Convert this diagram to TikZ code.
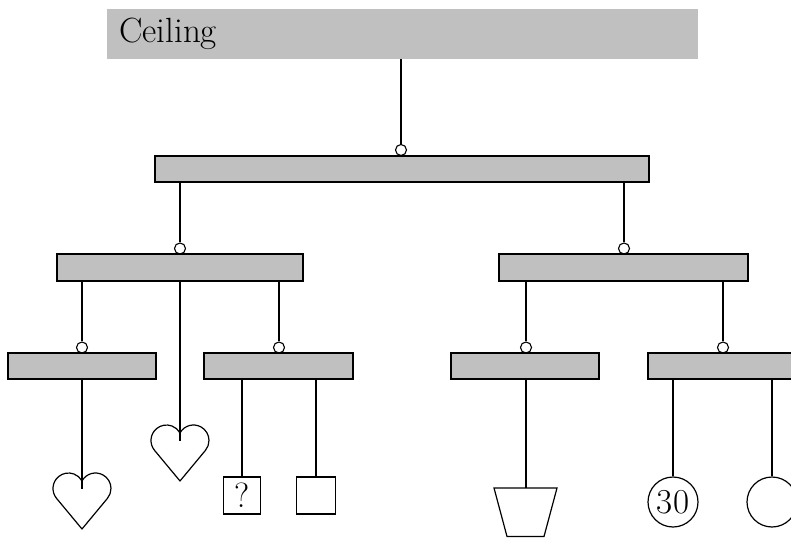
\documentclass[tikz,border=0pt]{standalone}
\definecolor{bargray}{RGB}{192,192,192}
\begin{document}
\begin{tikzpicture}[x=1pt,y=1pt,
  bar/.style={draw,line width=1.2pt,fill=bargray,minimum height=26pt,inner sep=0pt},
  ring/.style={circle,draw,fill=white,line width=1.1pt,minimum size=11pt,inner sep=0pt},
  hang/.style={line width=1.2pt},
  lbl/.style={font=\fontsize{35}{40}\selectfont},
  obj/.style={draw,line width=1.2pt,inner sep=0pt,lbl},
  heart/.pic={
    \draw[hang,line join=round] (0,-56) -- (-25.42,-25.41)
      arc[start angle=219.74,end angle=29.44,radius=15.5]
      arc[start angle=150.56,end angle=-39.74,radius=15.5] -- cycle;
    \coordinate (-top) at (0,-16);
  }]
\clip (0,0) rectangle (791,538);
% ceiling
\node[fill=bargray,minimum width=591pt,minimum height=50pt,inner sep=0pt] (ceil) at (402.5,504) {};
\node[lbl,anchor=base west,inner sep=0pt] (ceiltxt) at (119,495.5) {Ceiling};
% rings
\node[ring] (r0) at (401,388) {};
\node[ring] (r1) at (180,289.5) {};
\node[ring] (r2) at (624,289.5) {};
\node[ring] (r3) at (82,190.5) {};
\node[ring] (r4) at (279,190.5) {};
\node[ring] (r5) at (526,190.5) {};
\node[ring] (r6) at (723,190.5) {};
% bars
\node[bar,minimum width=494pt] (b0) at (402,369) {};
\node[bar,minimum width=246pt,minimum height=27pt] (b1) at (180,270.5) {};
\node[bar,minimum width=249pt,minimum height=27pt] (b2) at (623.5,270.5) {};
\node[bar,minimum width=148pt] (b3) at (82,172) {};
\node[bar,minimum width=149pt] (b4) at (278.5,172) {};
\node[bar,minimum width=148pt] (b5) at (525,172) {};
\node[bar,minimum width=148pt] (b6) at (722,172) {};
% connectors between bars
\draw[hang] (r0.north |- ceil.south) -- (r0.north);
\draw[hang] (r1.north |- b0.south) -- (r1.north);
\draw[hang] (r2.north |- b0.south) -- (r2.north);
\draw[hang] (r3.north |- b1.south) -- (r3.north);
\draw[hang] (r4.north |- b1.south) -- (r4.north);
\draw[hang] (r5.north |- b2.south) -- (r5.north);
\draw[hang] (r6.north |- b2.south) -- (r6.north);
% hanging objects
\pic (hA) at (82,65) {heart};
\pic (hB) at (180,113) {heart};
\node[obj,minimum width=37pt,minimum height=37pt] (qbox) at (242,42.5) {?};
\node[obj,minimum width=39pt,minimum height=37pt] (ebox) at (316,42.5) {};
\draw[hang] (494,50) -- (557,50) -- (544,1.5) -- (507,1.5) -- cycle;
\coordinate (tz) at (526,50);
\node[obj,circle,minimum size=50pt] (c30) at (673,36) {30};
\node[obj,circle,minimum size=50pt] (cE) at (772,36) {};
% object connectors
\draw[hang] (hA-top |- b3.south) -- (hA-top);
\draw[hang] (hB-top |- b1.south) -- (hB-top);
\draw[hang] (qbox.north |- b4.south) -- (qbox.north);
\draw[hang] (ebox.north |- b4.south) -- (ebox.north);
\draw[hang] (tz |- b5.south) -- (tz);
\draw[hang] (c30.north |- b6.south) -- (c30.north);
\draw[hang] (cE.north |- b6.south) -- (cE.north);
\end{tikzpicture}
\end{document}
